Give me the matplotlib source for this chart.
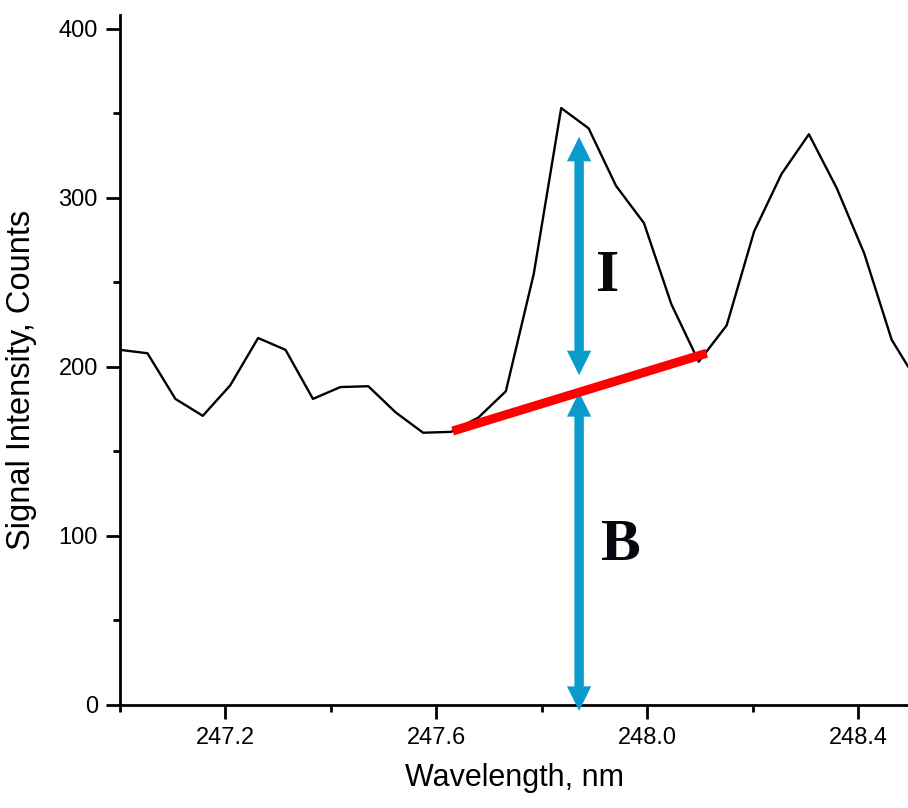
import numpy as np
import matplotlib.pyplot as plt
from matplotlib.ticker import MultipleLocator

# spectrum
wl = [247.000, 247.052, 247.105, 247.157, 247.209, 247.262, 247.314, 247.366,
      247.418, 247.471, 247.523, 247.575, 247.628, 247.680, 247.732, 247.785,
      247.837, 247.889, 247.941, 247.994, 248.046, 248.098, 248.151, 248.203,
      248.255, 248.307, 248.360, 248.412, 248.464, 248.517]
counts = [210, 208, 181, 171, 189, 217, 210, 181, 188, 188.5, 173, 161, 161.5,
          170, 185.5, 255, 353, 341, 307, 285, 237, 203, 224.5, 280, 314, 337.5,
          305.5, 267, 216, 189]

# background line under the peak
bg_x = [247.631, 248.113]
bg_y = [162, 208]

# arrows for I and B
arr_x = 247.871
i_top, i_bot = 336, 195
b_top, b_bot = 185, -3.5

blue = '#0a9bcc'

plt.rcParams['font.family'] = ['Liberation Sans', 'DejaVu Sans']

fig = plt.figure(figsize=(9.08, 8.08), dpi=100)
ax = fig.add_axes([0.1322, 0.1275, 0.8678, 0.8539])

ax.plot(wl, counts, color='black', lw=1.7, zorder=2)
ax.plot(bg_x, bg_y, color='#ff0000', lw=6.5, solid_capstyle='butt', zorder=4)

hl = 14.5  # head length in counts

def dbl_arrow(x, y0, y1):
    # two overlapping single arrows -> one double headed arrow
    ax.arrow(x, y0 + hl, 0, y1 - y0 - hl, width=0.017, head_width=0.046,
             head_length=hl, length_includes_head=True, lw=0,
             color=blue, zorder=3, clip_on=False)
    ax.arrow(x, y1 - hl, 0, y0 - y1 + hl, width=0.017, head_width=0.046,
             head_length=hl, length_includes_head=True, lw=0,
             color=blue, zorder=3, clip_on=False)

dbl_arrow(arr_x, i_bot, i_top)
dbl_arrow(arr_x, b_bot, b_top)

ax.text(247.926, 253, 'I', family='Liberation Serif', weight='bold',
        fontsize=43, color='#05070f', ha='center', va='center')
ax.text(247.949, 94, 'B', family='Liberation Serif', weight='bold',
        fontsize=43, color='#05070f', ha='center', va='center')

ax.set_xlim(247.0, 248.495)
ax.set_ylim(0, 408)
ax.xaxis.set_minor_locator(MultipleLocator(0.2))
ax.set_xticks([247.2, 247.6, 248.0, 248.4])
ax.set_xticklabels(['247.2', '247.6', '248.0', '248.4'])
ax.yaxis.set_major_locator(MultipleLocator(100))
ax.yaxis.set_minor_locator(MultipleLocator(50))

for s in ['top', 'right']:
    ax.spines[s].set_visible(False)
for s in ['left', 'bottom']:
    ax.spines[s].set_linewidth(2.0)

ax.tick_params(which='major', direction='out', length=10, width=2.0,
               labelsize=17, pad=6)
ax.tick_params(which='minor', direction='out', length=5, width=2.0)

ax.set_xlabel('Wavelength, nm', fontsize=22, labelpad=10)
ax.set_ylabel('Signal Intensity, Counts', fontsize=23.5)
ax.yaxis.set_label_coords(-0.106, 0.471)

fig.savefig('out.png', dpi=100)
